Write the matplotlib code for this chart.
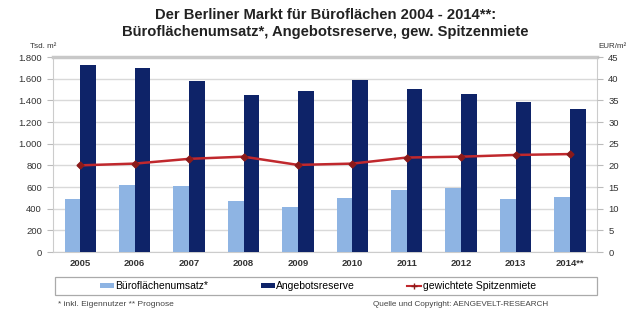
import matplotlib
matplotlib.use("Agg")
import matplotlib.pyplot as plt
import numpy as np
from matplotlib.lines import Line2D
from matplotlib.patches import Patch, Rectangle

years = ["2005", "2006", "2007", "2008", "2009", "2010", "2011", "2012", "2013", "2014**"]
umsatz = [490, 615, 605, 470, 420, 500, 570, 595, 490, 505]
reserve = [1725, 1700, 1580, 1445, 1485, 1590, 1505, 1460, 1385, 1320]
miete = [20.0, 20.4, 21.5, 22.0, 20.1, 20.4, 21.8, 22.0, 22.4, 22.6]
left_ticks = [0, 200, 400, 600, 800, 1000, 1200, 1400, 1600, 1800]
left_labels = ["0", "200", "400", "600", "800", "1.000", "1.200", "1.400", "1.600", "1.800"]
right_ticks = [0, 5, 10, 15, 20, 25, 30, 35, 40, 45]

plt.rcParams['font.family'] = ['Liberation Sans', 'DejaVu Sans']

fig = plt.figure(figsize=(6.4, 3.15), dpi=100)
ax = fig.add_axes([0.083, 0.2, 0.85, 0.619])
x = np.arange(len(years))
w = 0.29
c_light = "#8EB4E3"
c_dark = "#0E2368"
c_line = "#C0282D"

ax.bar(x - w / 2, umsatz, width=w, color=c_light, zorder=3)
ax.bar(x + w / 2, reserve, width=w, color=c_dark, zorder=3)
ax.set_xlim(-0.5, len(years) - 0.5)
ax.set_ylim(0, 1800)
ax.set_yticks(left_ticks)
ax.set_yticklabels(left_labels)
ax.set_xticks(x)
ax.set_xticklabels(years, fontweight='bold')
ax.tick_params(axis='both', labelsize=6.8, length=4, pad=4, color="#bbbbbb", colors="#333333")
ax.tick_params(axis='x', length=0, pad=5)
ax.grid(axis='y', color="#d9d9d9", linewidth=1, zorder=0)
for s in ['left', 'right', 'bottom']:
    ax.spines[s].set_color("#cccccc")
ax.spines['top'].set_color("#c8c8c8")
ax.spines['top'].set_linewidth(2.5)

ax2 = ax.twinx()
ax2.plot(x, miete, color=c_line, linewidth=1.8, marker='D', markersize=3.5,
         markerfacecolor="#8B1A1A", markeredgecolor="#8B1A1A", zorder=5)
ax2.set_ylim(0, 45)
ax2.set_yticks(right_ticks)
ax2.tick_params(axis='y', labelsize=6.8, length=4, pad=4, color="#bbbbbb", colors="#333333")
for s in ['left', 'right', 'bottom', 'top']:
    ax2.spines[s].set_visible(False)

fig.text(0.508, 1 - 15 / 315, "Der Berliner Markt für Büroflächen 2004 - 2014**:", ha='center', va='center',
         fontsize=10.6, fontweight='bold', color="#222222")
fig.text(0.508, 1 - 32 / 315, "Büroflächenumsatz*, Angebotsreserve, gew. Spitzenmiete", ha='center', va='center',
         fontsize=10.6, fontweight='bold', color="#222222")
fig.text(0.047, 0.853, "Tsd. m²", fontsize=5.8, color="#333333", va='center')
fig.text(0.935, 0.853, "EUR/m²", fontsize=5.8, color="#333333", va='center')

handles = [Patch(facecolor=c_light, label="Büroflächenumsatz*"),
           Patch(facecolor=c_dark, label="Angebotsreserve"),
           Line2D([0], [0], color=c_line, marker='+', markersize=5, markeredgecolor="#8B1A1A",
                  label="gewichtete Spitzenmiete")]
leg = fig.legend(handles=handles, loc='center left', bbox_to_anchor=(100 / 640, 0.092), ncol=3,
                 fontsize=7.5, frameon=False, handlelength=1.35, handleheight=0.45,
                 handletextpad=0.15, columnspacing=5.0, borderpad=0, borderaxespad=0)
fig.patches.append(Rectangle((55 / 640, 0.0635), (597 - 55) / 640, 0.057, transform=fig.transFigure,
                             fill=False, edgecolor="#aaaaaa", linewidth=0.9))

fig.text(58 / 640, 0.032, "* inkl. Eigennutzer ** Prognose", fontsize=6, color="#444444", va='center')
fig.text(373 / 640, 0.032, "Quelle und Copyright: AENGEVELT-RESEARCH", fontsize=5.9, color="#444444", va='center')

fig.savefig("out.png", dpi=100)
